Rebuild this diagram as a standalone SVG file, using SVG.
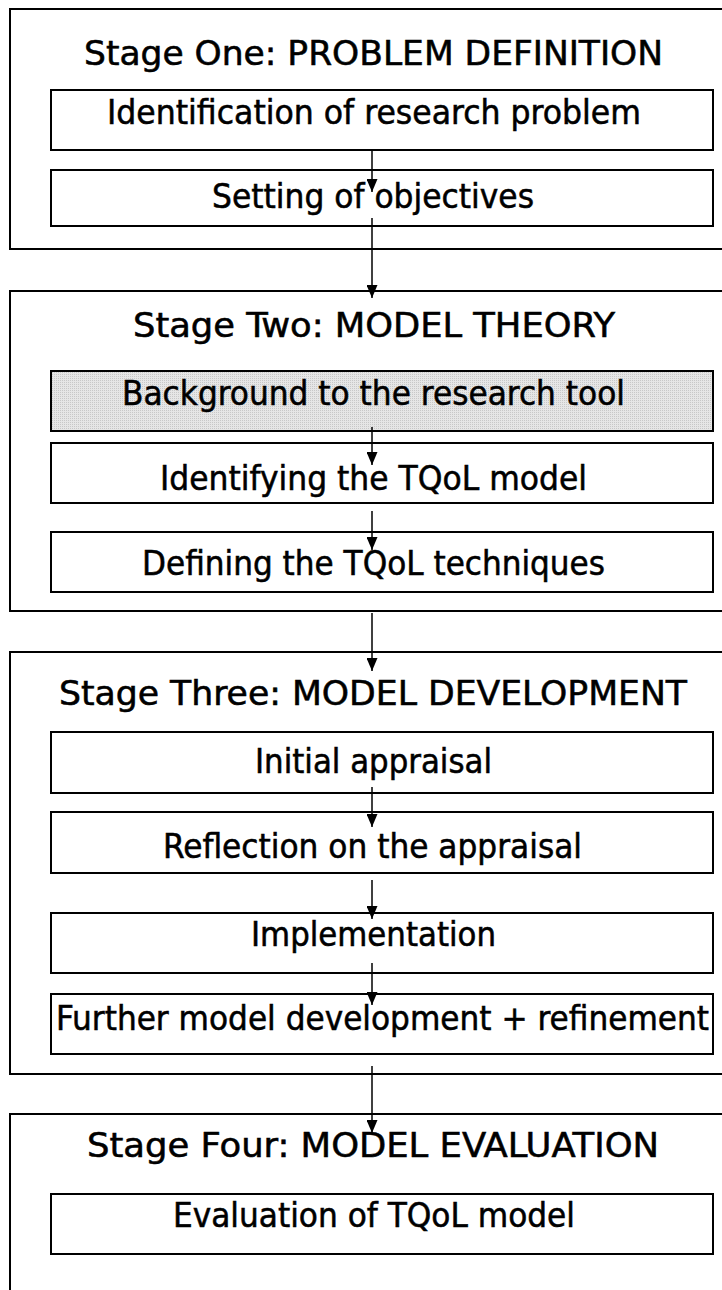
<svg xmlns="http://www.w3.org/2000/svg" width="722" height="1290" viewBox="0 0 722 1290">
<defs>
<marker id="ah" markerWidth="13" markerHeight="11" refX="13" refY="5.5" orient="auto" markerUnits="userSpaceOnUse" viewBox="0 0 13 11">
<path d="M0,0 L13,5.5 L0,11 Z" fill="#000"/>
</marker>
<pattern id="dots" width="2" height="2" patternUnits="userSpaceOnUse">
<rect width="2" height="2" fill="#e6e6e6"/>
<rect width="1" height="1" fill="#c8c8c8"/>
</pattern>
</defs>
<style>
.stage{fill:none;stroke:#000;stroke-width:2}
.box{fill:#fff;stroke:#000;stroke-width:2}
.gray{fill:url(#dots);stroke:#000;stroke-width:2}
text{font-family:"DejaVu Sans","Liberation Sans",sans-serif;font-stretch:condensed;font-size:33px;fill:#000;stroke:#000;stroke-width:0.5;text-anchor:middle}
.conn line{stroke:#000;stroke-width:1.5}
</style>
<rect width="722" height="1290" fill="#fff"/>

<g id="stage1">
<rect class="stage" x="10" y="9" width="730" height="240"/>
<text x="373.5" y="65" textLength="579" lengthAdjust="spacingAndGlyphs">Stage One: PROBLEM DEFINITION</text>
</g>
<g id="n1"><rect class="box" x="51" y="90" width="662" height="60"/>
<text x="374" y="124" textLength="534" lengthAdjust="spacingAndGlyphs">Identification of research problem</text></g>
<g id="n2"><rect class="box" x="51" y="170" width="662" height="56"/>
<text x="373" y="208" textLength="322" lengthAdjust="spacingAndGlyphs">Setting of objectives</text></g>

<g id="stage2">
<rect class="stage" x="10" y="291" width="730" height="320"/>
<text x="374" y="337" textLength="482" lengthAdjust="spacingAndGlyphs">Stage Two: MODEL THEORY</text>
</g>
<g id="n3"><rect class="gray" x="51" y="371" width="662" height="60"/>
<text x="373.5" y="405" textLength="503" lengthAdjust="spacingAndGlyphs">Background to the research tool</text></g>
<g id="n4"><rect class="box" x="51" y="443" width="662" height="60"/>
<text x="373.5" y="490" textLength="427" lengthAdjust="spacingAndGlyphs">Identifying the TQoL model</text></g>
<g id="n5"><rect class="box" x="51" y="532" width="662" height="60"/>
<text x="373.5" y="575" textLength="463" lengthAdjust="spacingAndGlyphs">Defining the TQoL techniques</text></g>

<g id="stage3">
<rect class="stage" x="10" y="652" width="730" height="422"/>
<text x="373" y="705" textLength="628" lengthAdjust="spacingAndGlyphs">Stage Three: MODEL DEVELOPMENT</text>
</g>
<g id="n6"><rect class="box" x="51" y="732" width="662" height="61"/>
<text x="373.5" y="773" textLength="237" lengthAdjust="spacingAndGlyphs">Initial appraisal</text></g>
<g id="n7"><rect class="box" x="51" y="812" width="662" height="61"/>
<text x="372.5" y="858" textLength="419" lengthAdjust="spacingAndGlyphs">Reflection on the appraisal</text></g>
<g id="n8"><rect class="box" x="51" y="913" width="662" height="60"/>
<text x="373.5" y="946" textLength="245" lengthAdjust="spacingAndGlyphs">Implementation</text></g>
<g id="n9"><rect class="box" x="51" y="994" width="662" height="60"/>
<text x="382.5" y="1030" textLength="653" lengthAdjust="spacingAndGlyphs">Further model development + refinement</text></g>

<g id="stage4">
<path class="stage" d="M10,1300 V1114 H740"/>
<text x="373" y="1157" textLength="572" lengthAdjust="spacingAndGlyphs">Stage Four: MODEL EVALUATION</text>
</g>
<g id="n10"><rect class="box" x="51" y="1194" width="662" height="60"/>
<text x="374" y="1227" textLength="402" lengthAdjust="spacingAndGlyphs">Evaluation of TQoL model</text></g>

<g id="connectors" class="conn">
<line x1="372" y1="150" x2="372" y2="192" marker-end="url(#ah)"/>
<line x1="372" y1="218" x2="372" y2="298" marker-end="url(#ah)"/>
<line x1="372" y1="427" x2="372" y2="465" marker-end="url(#ah)"/>
<line x1="372" y1="511" x2="372" y2="550" marker-end="url(#ah)"/>
<line x1="372" y1="613" x2="372" y2="671" marker-end="url(#ah)"/>
<line x1="372" y1="787" x2="372" y2="827" marker-end="url(#ah)"/>
<line x1="372" y1="880" x2="372" y2="919" marker-end="url(#ah)"/>
<line x1="372" y1="963" x2="372" y2="1005" marker-end="url(#ah)"/>
<line x1="372" y1="1066" x2="372" y2="1133" marker-end="url(#ah)"/>
</g>
</svg>
